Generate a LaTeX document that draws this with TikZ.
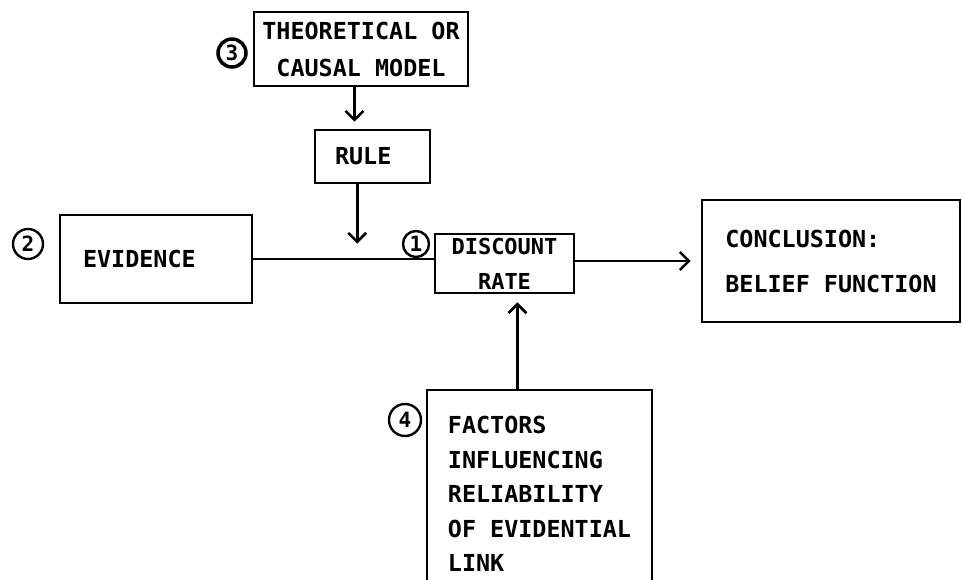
\documentclass[tikz,border=0pt]{standalone}
\usepackage{fontspec}
\newfontfamily\diafont{DejaVu Sans Mono Bold}
\usetikzlibrary{arrows.meta,calc}
\begin{document}
\begin{tikzpicture}[x=1pt,y=-1pt,
  box/.style={draw,line width=2.6pt,rectangle,inner sep=0pt,font=\diafont\fontsize{23.4}{37}\selectfont,align=center},
  lbox/.style={box,align=left},
  num/.style={draw,circle,line width=2.4pt,inner sep=0pt,minimum size=28pt,font=\diafont\fontsize{21}{21}\selectfont},
  conn/.style={line width=2.6pt},
  arr/.style={conn,-{Straight Barb[length=9pt,width=18pt,line width=2.6pt]}}
]
\fill[white] (0,0) rectangle (962,580);
\clip (0,0) rectangle (962,580);
\node[box,minimum width=214pt,minimum height=74pt] (theo) at (361,49) {THEORETICAL OR\\CAUSAL MODEL};
\node[lbox,text width=75pt,minimum width=115pt,minimum height=53pt] (rule) at (372.5,156.5) {RULE};
\node[lbox,text width=146pt,minimum width=192pt,minimum height=88pt] (ev) at (156,259) {EVIDENCE};
\node[box,minimum width=139pt,minimum height=59pt,font=\diafont\fontsize{22}{35}\selectfont] (disc) at (504.5,263.5) {DISCOUNT\\RATE};
\node[lbox,minimum width=258pt,minimum height=122pt,font=\diafont\fontsize{23.4}{45}\selectfont] (conc) at (831,261) {CONCLUSION:\\BELIEF FUNCTION};
\node[lbox,minimum width=225pt,minimum height=208pt,font=\diafont\fontsize{23.4}{34.5}\selectfont] (fac) at (539.5,494) {FACTORS\\INFLUENCING\\RELIABILITY\\OF EVIDENTIAL\\LINK};
\node[num,line width=3.5pt] (n3) at (232,53) {3};
\node[num,minimum size=30pt] (n2) at (28,244) {2};
\node[num,minimum size=26pt] (n1) at (416,244) {1};
\node[num,minimum size=32pt] (n4) at (405,420) {4};
\coordinate (t1) at ($(theo.south west)!0.47!(theo.south east)$);
\draw[arr,shorten >=7pt] (t1) -- (t1 |- rule.north);
\coordinate (r1) at ($(rule.south west)!0.37!(rule.south east)$);
\coordinate (r2) at ($(r1 |- disc.north)+(0,11)$);
\draw[arr] (r1) -- (r2);
\draw[conn] (ev.east) -- (ev.east -| disc.west);
\draw[arr,shorten >=10pt] (conc.west -| disc.east) -- (conc.west);
\coordinate (f1) at ($(fac.north west)!0.403!(fac.north east)$);
\draw[arr,shorten >=8pt] (f1) -- (f1 |- disc.south);
\end{tikzpicture}
\end{document}
